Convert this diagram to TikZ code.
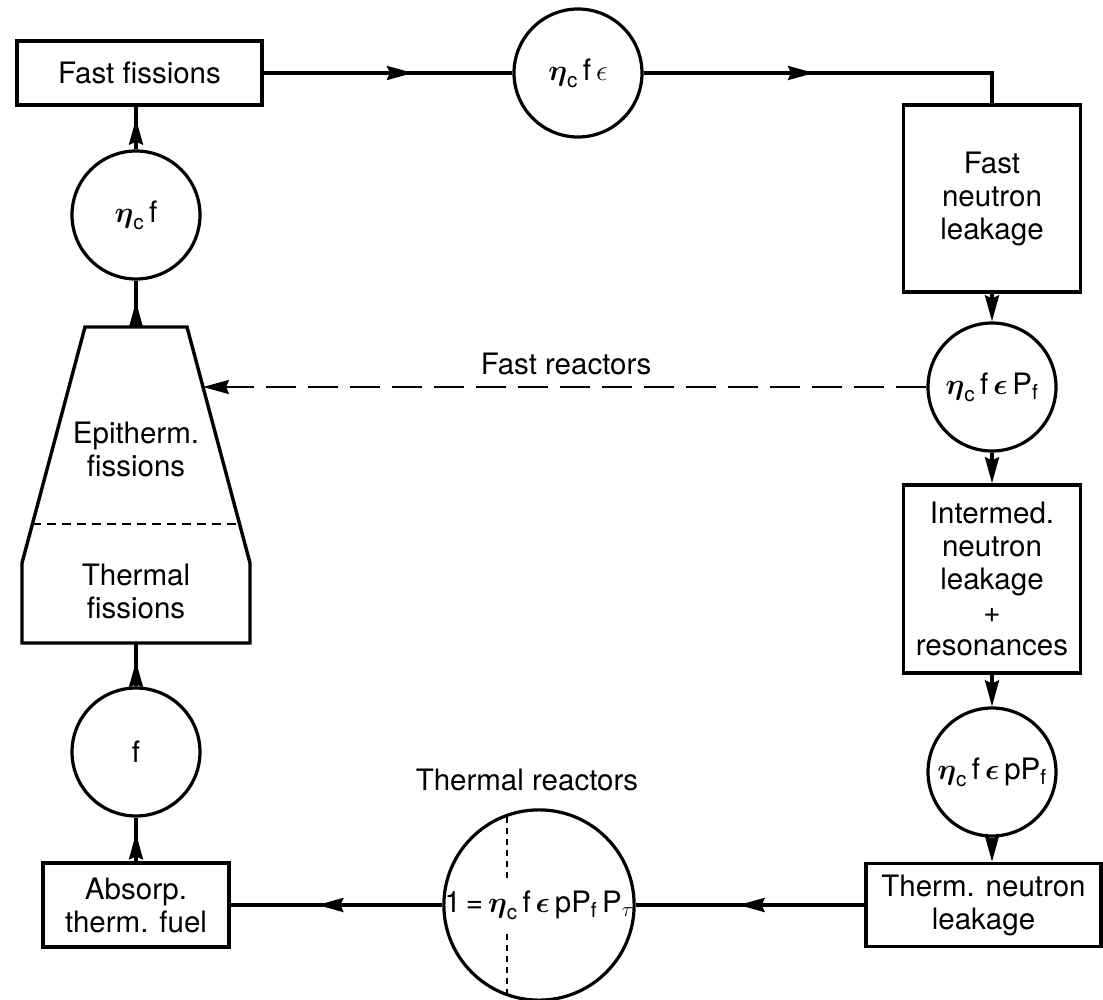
\RequirePackage{fix-cm}
\documentclass[tikz,border=0pt]{standalone}
\usepackage{amsmath}
\usepackage{fontspec}
\setmainfont{TeX Gyre Heros}
\usetikzlibrary{arrows.meta,decorations.markings}

\tikzset{
  every node/.style={font=\fontsize{29.5}{33}\selectfont, align=center},
  box/.style={draw, line width=3.4pt, rectangle, inner sep=0pt},
  circ/.style={draw, line width=3.2pt, circle, minimum size=128pt, inner sep=0pt},
  conn/.style={line width=3.2pt},
  tipend/.style={-{Stealth[length=26pt,width=14pt,inset=3pt]}},
  midarrow/.style={postaction={decorate}, decoration={markings, mark=at position #1 with {\arrow{Stealth[length=26pt,width=14pt,inset=3pt]}}}},
  dashlink/.style={line width=2.4pt, dash pattern=on 30pt off 12pt},
  fine/.style={line width=2pt, dash pattern=on 9pt off 6pt},
  chord/.style={line width=1.8pt, dash pattern=on 6pt off 5pt},
}
\newcommand{\etac}{$\boldsymbol{\eta}_{\mathrm{c}}$}

\begin{document}
\begin{tikzpicture}[x=1pt,y=-1pt]
\useasboundingbox (0,0) rectangle (1103,1000);

% left column
\node[box, minimum width=245pt, minimum height=64pt] (ff) at (139.5,73) {Fast fissions};
\node[circ] (c1) at (136,215) {\etac\,f};

\draw[line width=3.4pt, line join=miter] (85,327) -- (187,327) -- (250,563) -- (250,643) -- (22,643) -- (22,563) -- cycle;
\draw[fine] (32.4,524) -- (239.6,524);
\coordinate (trapTop) at (136,327);
\coordinate (trapBot) at (136,643);
\coordinate (trapR) at (203,387);
\node (epi) at (136,449) {Epitherm.\\fissions};
\node (thf) at (136,591) {Thermal\\fissions};

\node[circ] (c2) at (136,752) {f};
\node[box, minimum width=186pt, minimum height=84pt] (ab) at (136,905) {Absorp.\\therm. fuel};

% top
\node[circ] (c3) at (578,73) {\etac\,f\,$\epsilon$};

% right column
\node[box, minimum width=177pt, minimum height=187pt] (fnl) at (992,198.5) {Fast\\neutron\\leakage};
\node[circ] (c4) at (992,387) {\etac\,f\,$\boldsymbol{\epsilon}$\,P$_{\mathrm{f}}$};
\node[box, minimum width=177pt, minimum height=188pt] (im) at (992,579) {Intermed.\\neutron\\leakage\\+\\resonances};
\node[circ] (c5) at (992,772) {\etac\,f\,$\boldsymbol{\epsilon}$\,pP$_{\mathrm{f}}$};
\node[box, minimum width=235pt, minimum height=83pt] (tn) at (983.5,905) {Therm. neutron\\leakage};

% bottom big circle
\draw[chord] (507,817) -- (507,878);
\draw[chord] (507,934) -- (507,993);
\node[circ, minimum size=188pt] (big) at (539,905) {1\,=\,\etac\,f\,$\boldsymbol{\epsilon}$\,pP$_{\mathrm{f}}$\,P$_{\tau}$};

% labels
\node (fr) at (566,364) {Fast reactors};
\node (tr) at (527,780) {Thermal reactors};

% connectors
\draw[conn, midarrow=0.72] (c1.north) -- (c1.north |- ff.south);
\draw[conn, midarrow=0.55] (trapTop) -- (c1.south);
\draw[conn, midarrow=0.58] (c2.north) -- (trapBot);
\draw[conn, midarrow=0.64] (ab.north) -- (c2.south);
\draw[conn, midarrow=0.6] (ff.east) -- (c3.west);
\draw[conn, midarrow=0.45] (c3.east) -| (fnl.north);
\draw[conn, tipend] (fnl.south) -- (c4.north);
\draw[conn, tipend] (c4.south) -- (im.north);
\draw[conn, tipend] (im.south) -- (c5.north);
\draw[conn, tipend] (c5.south) -- (c5.south |- tn.north);
\draw[conn, midarrow=0.55] (tn.west) -- (big.east);
\draw[conn, midarrow=0.59] (big.west) -- (ab.east);
\draw[dashlink, tipend] (c4.west) -- (trapR);
\end{tikzpicture}
\end{document}
